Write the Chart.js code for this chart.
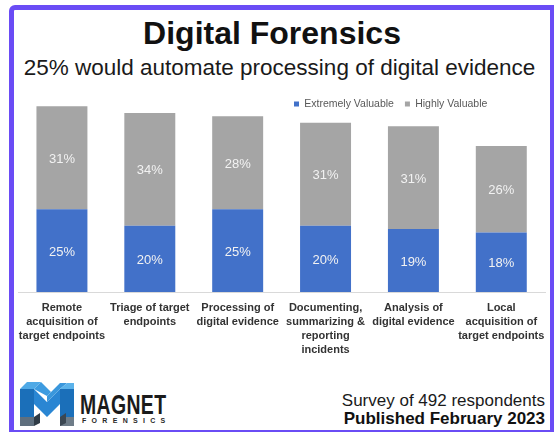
<!DOCTYPE html>
<html>
<head>
<meta charset="utf-8">
<script src="https://cdn.jsdelivr.net/npm/chart.js@4.4.1/dist/chart.umd.min.js"></script>
<style>
  html, body { margin:0; padding:0; background:#fff; }
  body { width:554px; height:432px; position:relative; overflow:hidden; font-family:"Liberation Sans", Arial, sans-serif; }
  .frame { position:absolute; left:9px; top:5px; width:545px; height:427px; box-sizing:border-box;
           border-style:solid; border-color:#6a4cf5; border-width:5px 4px 2px 5px; border-top-left-radius:6px; }
  .t { position:absolute; white-space:nowrap; line-height:1; }
  #title { left:0; width:544px; text-align:center; top:17px; font-size:32px; font-weight:bold; color:#111; }
  #sub { left:0; width:559px; text-align:center; top:57px; font-size:22.5px; color:#1a1a1a; }
  #s1 { right:9px; top:392px; font-size:17px; color:#1a1a1a; }
  #s2 { right:9px; top:410px; font-size:17px; font-weight:bold; color:#111; }
  #brand { left:80px; top:392px; font-size:27px; font-weight:bold; color:#1b1b1b; transform:scaleX(0.72); transform-origin:left top; letter-spacing:0.5px; }
  #brand2 { left:82px; top:417px; font-size:7px; font-weight:bold; color:#2a2a2a; letter-spacing:5.3px; }
  #logo { position:absolute; left:17px; top:377px; }
  #cv { position:absolute; left:0; top:85px; }
</style>
</head>
<body>
<div class="frame"></div>
<div class="t" id="title">Digital Forensics</div>
<div class="t" id="sub">25% would automate processing of digital evidence</div>
<canvas id="cv" width="554" height="285"></canvas>
<svg id="logo" width="60" height="52" viewBox="0 0 58 52">
  <polygon points="2,12 16,12 16,49 2,49" fill="#1b6fb9"/>
  <polygon points="42,12 56,12 56,49 42,49" fill="#1b6fb9"/>
  <polygon points="16,12 29,25 42,12 42,27 29,40 16,27" fill="#2a86d3"/>
  <polygon points="2,12 9,5 23,5 16,12" fill="#4fa9e6"/>
  <polygon points="16,12 23,5 33,15 29,19" fill="#3d9be0"/>
  <polygon points="29,19 42,6 49,6 42,12 29,25" fill="#3a97dc"/>
  <polygon points="42,12 49,6 56,6 56,12" fill="#5bb2ea"/>
  <polygon points="2,40 16,40 16,49 2,49" fill="#5f6f7e"/>
  <polygon points="42,40 56,40 56,49 42,49" fill="#6e7c88"/>
  <polygon points="16,40 22,36 22,46 16,49" fill="#2f3b46"/>
  <polygon points="42,40 48,36 48,46 42,49" fill="#3b4752"/>
</svg>
<div class="t" id="brand">MAGNET</div>
<div class="t" id="brand2">FORENSICS</div>
<div class="t" id="s1">Survey of 492 respondents</div>
<div class="t" id="s2">Published February 2023</div>
<script>
const categories = [
  ["Remote", "acquisition of", "target endpoints"],
  ["Triage of target", "endpoints"],
  ["Processing of", "digital evidence"],
  ["Documenting,", "summarizing &", "reporting", "incidents"],
  ["Analysis of", "digital evidence"],
  ["Local", "acquisition of", "target endpoints"]
];
const seriesNames = ["Extremely Valuable", "Highly Valuable"];
const extremelyValuable = [25, 20, 25, 20, 19, 18];
const highlyValuable = [31, 34, 28, 31, 31, 26];
const yMax = 60;

const valueLabels = {
  id: 'valueLabels',
  afterDatasetsDraw(chart) {
    const ctx = chart.ctx;
    ctx.save();
    ctx.font = '13px "Liberation Sans", Arial, sans-serif';
    ctx.fillStyle = '#f2f2f2';
    ctx.textAlign = 'center';
    ctx.textBaseline = 'middle';
    chart.data.datasets.forEach((ds, di) => {
      const meta = chart.getDatasetMeta(di);
      meta.data.forEach((bar, i) => {
        const p = bar.getProps(['x', 'y', 'base'], true);
        ctx.fillText(ds.data[i] + '%', p.x, (p.y + p.base) / 2 + 1.5);
      });
    });
    ctx.restore();
  }
};

const legendPlace = {
  id: 'legendPlace',
  beforeLayout(chart) {
    const lg = chart.legend;
    if (lg && !lg._patched) {
      const orig = lg.fit;
      lg.fit = function () { orig.call(this); this.height = 0; };
      lg._patched = true;
    }
  },
  afterLayout(chart) {
    const lg = chart.legend;
    if (!lg) return;
    const pad = lg.options.labels.padding;
    lg.left = 294 - pad;
    lg.right = chart.width;
    lg.width = lg.right - lg.left;
    lg.top = 19 - pad - 5.25;
    lg.height = 30;
    lg.bottom = lg.top + lg.height;
  }
};

new Chart(document.getElementById('cv'), {
  type: 'bar',
  data: {
    labels: categories,
    datasets: [
      { label: seriesNames[0], data: extremelyValuable, backgroundColor: '#4271c9', barPercentage: 0.58, categoryPercentage: 1 },
      { label: seriesNames[1], data: highlyValuable, backgroundColor: '#a5a5a5', barPercentage: 0.58, categoryPercentage: 1 }
    ]
  },
  options: {
    responsive: false,
    animation: false,
    devicePixelRatio: 1,
    layout: { padding: { left: 18, right: 7.5, top: 8, bottom: 4 } },
    plugins: {
      legend: {
        position: 'top',
        align: 'start',
        labels: {
          boxWidth: 5, boxHeight: 5, padding: 11,
          color: '#595959',
          font: { family: '"Liberation Sans", Arial, sans-serif', size: 10.5 }
        }
      },
      tooltip: { enabled: false }
    },
    scales: {
      x: {
        stacked: true,
        grid: { display: false, drawTicks: false },
        border: { display: true, color: '#d9d9d9', width: 1 },
        ticks: {
          padding: 9,
          autoSkip: false,
          maxRotation: 0,
          color: '#333333',
          font: { family: '"Liberation Sans", Arial, sans-serif', size: 11, weight: 'bold', lineHeight: 1.27 }
        }
      },
      y: {
        stacked: true,
        display: false,
        min: 0,
        max: yMax
      }
    }
  },
  plugins: [valueLabels, legendPlace]
});
</script>
</body>
</html>
